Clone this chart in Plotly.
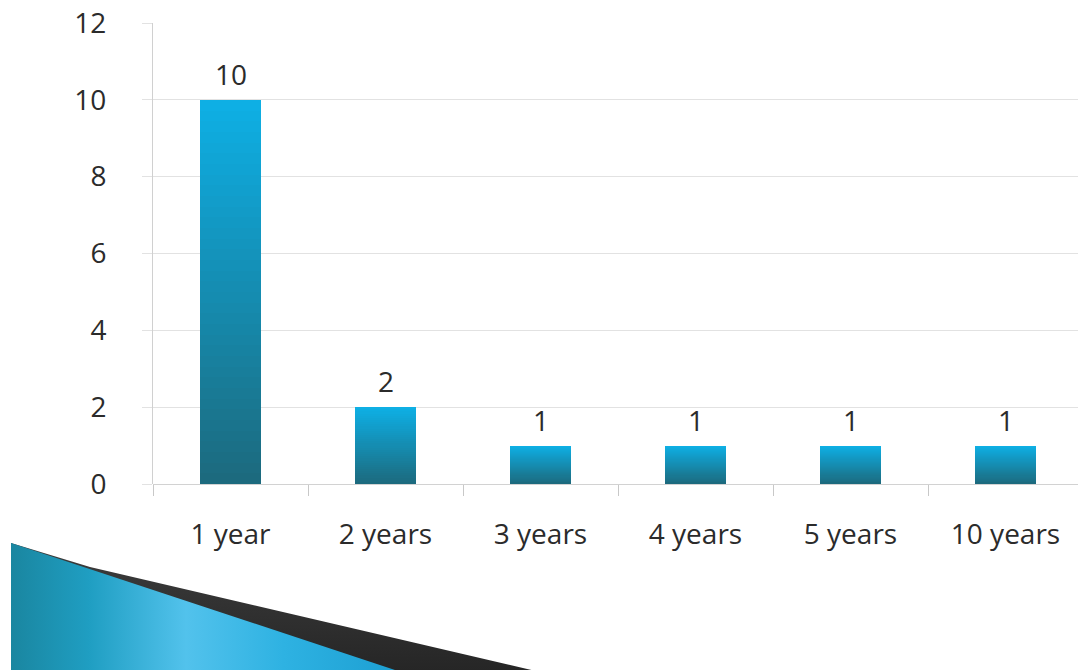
import base64
import plotly.graph_objects as go

# ---- data ----
categories = ["1 year", "2 years", "3 years", "4 years", "5 years", "10 years"]
counts = [10, 2, 1, 1, 1, 1]
y_ticks = [0, 2, 4, 6, 8, 10, 12]

# ---- layout constants (pixels) ----
W, H = 1078, 670
ML, MR, MT, MB = 153, 0, 23, 186
PW, PH = W - ML - MR, H - MT - MB
CAT_PX = 155.0

# gradient colours for the bars (top -> bottom)
TOP = (14, 175, 228)
BOT = (28, 106, 126)
N = 36

fig = go.Figure()

# Gradient bars: overlayed bars, each shorter one drawn darker on top
for k in range(N):
    frac = 1 - k / N
    t = k / (N - 1)
    c = tuple(round(TOP[i] + (BOT[i] - TOP[i]) * t) for i in range(3))
    fig.add_trace(go.Bar(
        x=categories,
        y=[v * frac for v in counts],
        width=0.39,
        marker=dict(color="rgb(%d,%d,%d)" % c, line=dict(width=0)),
        hoverinfo="skip",
        showlegend=False,
    ))

# value labels
for cat, v in zip(categories, counts):
    fig.add_annotation(
        x=cat, y=v, text=str(v), showarrow=False,
        xanchor="center", yanchor="bottom", yshift=5,
        font=dict(family="Open Sans", size=28, color="#2b2b2b"),
    )

# decorative swoosh at bottom-left (SVG with gradients)
svg = f'''<svg xmlns="http://www.w3.org/2000/svg" width="{W}" height="{H}" viewBox="0 0 {W} {H}">
<defs>
<linearGradient id="g" x1="11" y1="0" x2="400" y2="0" gradientUnits="userSpaceOnUse">
<stop offset="0" stop-color="#1a86a0"/>
<stop offset="0.2" stop-color="#1f9ec2"/>
<stop offset="0.45" stop-color="#52c2ec"/>
<stop offset="0.7" stop-color="#2eb2e2"/>
<stop offset="1" stop-color="#1c9fd2"/>
</linearGradient>
<linearGradient id="k" x1="0" y1="560" x2="0" y2="670" gradientUnits="userSpaceOnUse">
<stop offset="0" stop-color="#3a3a3a"/>
<stop offset="1" stop-color="#262626"/>
</linearGradient>
</defs>
<polygon points="11,543 90,567 540,672 11,672" fill="url(#k)"/>
<polygon points="11,543 398,671 11,671" fill="url(#g)"/>
</svg>'''
uri = "data:image/svg+xml;base64," + base64.b64encode(svg.encode()).decode()
fig.add_layout_image(dict(
    source=uri, xref="paper", yref="paper",
    x=-ML / PW, y=1 + MT / PH, sizex=W / PW, sizey=H / PH,
    xanchor="left", yanchor="top", sizing="stretch", layer="below",
))

x_right = -0.5 + PW / CAT_PX

fig.update_layout(
    width=W, height=H,
    margin=dict(l=ML, r=MR, t=MT, b=MB, pad=0),
    barmode="overlay",
    bargap=0,
    plot_bgcolor="white", paper_bgcolor="white",
    font=dict(family="Open Sans", size=28, color="#2b2b2b"),
    showlegend=False,
    xaxis=dict(
        type="category", range=[-0.5, x_right],
        showgrid=False, zeroline=False,
        showline=False,
        ticks="outside", tickson="boundaries", ticklen=11, tickwidth=1,
        tickcolor="#c8c8c8",
        ticklabelstandoff=31,
        tickfont=dict(family="Open Sans", size=28, color="#2b2b2b"),
        fixedrange=True,
    ),
    yaxis=dict(
        range=[0, 12], tickvals=y_ticks, ticktext=[str(v) for v in y_ticks],
        showgrid=True, gridcolor="#e2e2e2", gridwidth=1,
        zeroline=True, zerolinecolor="#d2d2d2", zerolinewidth=1,
        showline=True, linecolor="#d0d0d0", linewidth=1,
        ticks="outside", ticklen=10, tickcolor="#e2e2e2",
        ticklabelstandoff=30,
        tickfont=dict(family="Open Sans", size=28, color="#2b2b2b"),
        fixedrange=True,
    ),
)

fig.write_html("out.html", config={"displayModeBar": False},
               post_script="document.body.style.margin='0';document.body.style.overflow='hidden';")
